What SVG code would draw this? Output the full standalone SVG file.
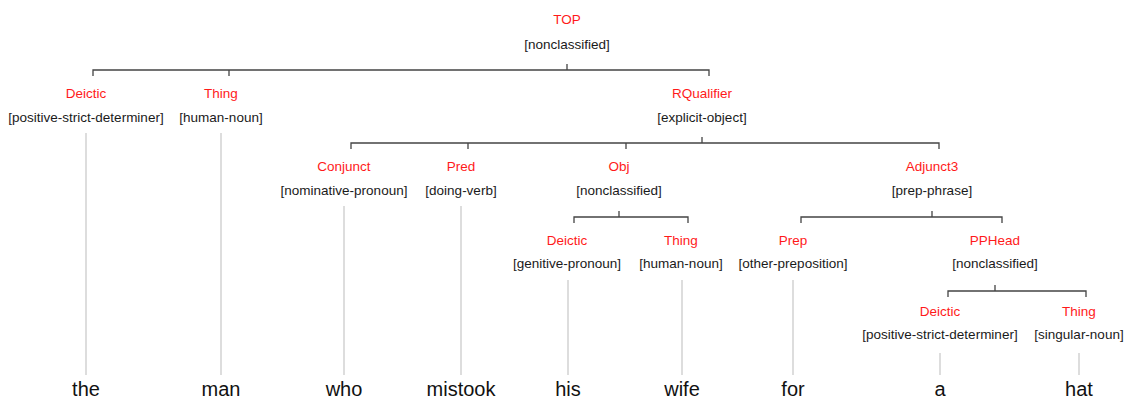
<svg xmlns="http://www.w3.org/2000/svg" width="1128" height="398" viewBox="0 0 1128 398">
<style>
.lab{font-family:"Liberation Sans",Arial,sans-serif;font-size:13.5px;fill:#ff1a1a;text-anchor:middle}
.typ{font-family:"Liberation Sans",Arial,sans-serif;font-size:13.5px;fill:#1a1a1a;text-anchor:middle}
.word{font-family:"Liberation Sans",Arial,sans-serif;font-size:20px;fill:#111;text-anchor:middle}
.br{stroke:#444;stroke-width:1.3;fill:none}
.lf{stroke:#bbb;stroke-width:1;fill:none}
</style>
<rect width="1128" height="398" fill="#fff"/>
<g id="connectors">
<path class="br" d="M567,64V70M93,76V70H709V76M229,70V76"/>
<path class="br" d="M702,137V143M351,149V143H939V149M468,143V149M626,143V149"/>
<path class="br" d="M619,211V217M574,223V217H688V223"/>
<path class="br" d="M932,211V217M801,223V217H1002V223"/>
<path class="br" d="M995,285V291M948,297V291H1086V297"/>
<path class="lf" d="M86,133V375M221,133V375M344,206V375M461,206V375M568,280V375M682,280V375M793,280V375M940,353V375M1079,353V375"/>
</g>
<g id="n-top"><text class="lab" x="567" y="24">TOP</text><text class="typ" x="567" y="49">[nonclassified]</text></g>
<g id="n-deictic1"><text class="lab" x="86" y="98">Deictic</text><text class="typ" x="86" y="122">[positive-strict-determiner]</text></g>
<g id="n-thing1"><text class="lab" x="221" y="98">Thing</text><text class="typ" x="221" y="122">[human-noun]</text></g>
<g id="n-rqualifier"><text class="lab" x="702" y="98">RQualifier</text><text class="typ" x="702" y="122">[explicit-object]</text></g>
<g id="n-conjunct"><text class="lab" x="344" y="171">Conjunct</text><text class="typ" x="344" y="195">[nominative-pronoun]</text></g>
<g id="n-pred"><text class="lab" x="461" y="171">Pred</text><text class="typ" x="461" y="195">[doing-verb]</text></g>
<g id="n-obj"><text class="lab" x="619" y="171">Obj</text><text class="typ" x="619" y="195">[nonclassified]</text></g>
<g id="n-adjunct3"><text class="lab" x="932" y="171">Adjunct3</text><text class="typ" x="932" y="195">[prep-phrase]</text></g>
<g id="n-deictic2"><text class="lab" x="567" y="245">Deictic</text><text class="typ" x="567" y="268">[genitive-pronoun]</text></g>
<g id="n-thing2"><text class="lab" x="681" y="245">Thing</text><text class="typ" x="681" y="268">[human-noun]</text></g>
<g id="n-prep"><text class="lab" x="793" y="245">Prep</text><text class="typ" x="793" y="268">[other-preposition]</text></g>
<g id="n-pphead"><text class="lab" x="995" y="245">PPHead</text><text class="typ" x="995" y="268">[nonclassified]</text></g>
<g id="n-deictic3"><text class="lab" x="940" y="316">Deictic</text><text class="typ" x="940" y="339">[positive-strict-determiner]</text></g>
<g id="n-thing3"><text class="lab" x="1079" y="316">Thing</text><text class="typ" x="1079" y="339">[singular-noun]</text></g>
<g id="words">
<text class="word" x="86" y="396">the</text>
<text class="word" x="221" y="396">man</text>
<text class="word" x="344" y="396">who</text>
<text class="word" x="461" y="396">mistook</text>
<text class="word" x="568" y="396">his</text>
<text class="word" x="682" y="396">wife</text>
<text class="word" x="793" y="396">for</text>
<text class="word" x="940" y="396">a</text>
<text class="word" x="1079" y="396">hat</text>
</g>
</svg>
